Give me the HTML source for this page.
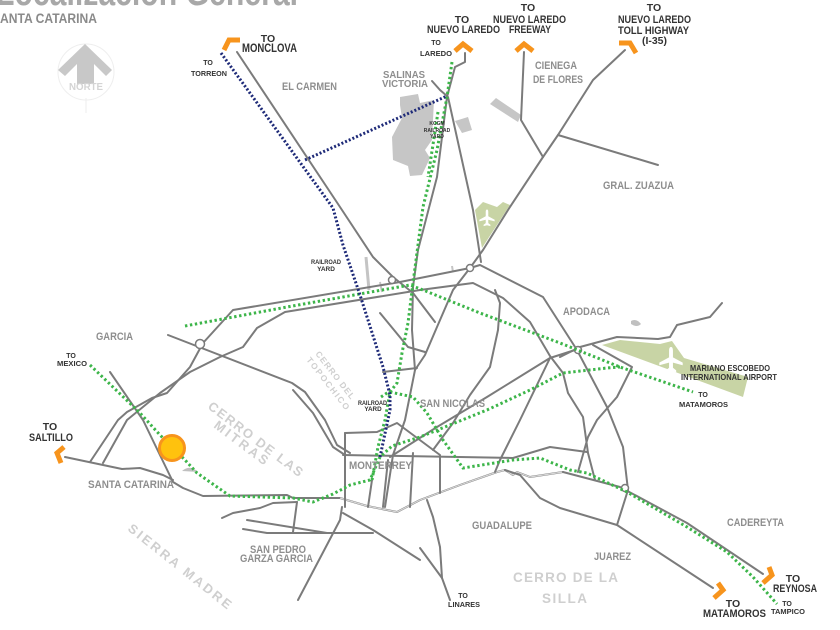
<!DOCTYPE html>
<html><head><meta charset="utf-8"><style>
html,body{margin:0;padding:0;background:#fff;width:840px;height:630px;overflow:hidden}
svg{display:block}
.r{fill:none;stroke:#7b7b7b;stroke-width:2;stroke-linejoin:round;stroke-linecap:round}
.rw{fill:none;stroke:#d8d8d8;stroke-width:1.2;stroke-linejoin:round}
.g{fill:none;stroke:#3db54a;stroke-width:3;stroke-dasharray:2.4 2.6}
.b{fill:none;stroke:#1e2a78;stroke-width:3;stroke-dasharray:2 2}
.o{fill:none;stroke:#f7941d;stroke-width:5;stroke-linejoin:miter;stroke-linecap:butt}
text{font-family:"Liberation Sans",sans-serif;font-weight:bold}
.lb{fill:#333}
.lg{fill:#8e8e8e}
.lc{fill:#cfcfcf}
.cl{fill:#fff;stroke:#7b7b7b;stroke-width:1.5}
</style></head><body>
<svg width="840" height="630" viewBox="0 0 840 630">
<!-- title -->
<text x="-4" y="5" font-size="38" fill="#a8a8a8" font-weight="normal" textLength="302" lengthAdjust="spacingAndGlyphs">Localización General</text>
<text x="0" y="23" font-size="13.5" fill="#8a8a8a" font-weight="normal" textLength="97" lengthAdjust="spacingAndGlyphs">ANTA CATARINA</text>

<!-- north arrow -->
<circle cx="86" cy="72" r="28" fill="none" stroke="#eeeeee" stroke-width="1"/>
<line x1="86" y1="98" x2="86" y2="113" stroke="#eeeeee" stroke-width="1"/>
<polygon points="85,44 112,70 106,76 94,64 94,84 77,84 77,64 65,76 58,70" fill="#c8c8c8"/>
<text x="86" y="90" font-size="10.5" fill="#d4d4d4" text-anchor="middle" textLength="34" lengthAdjust="spacingAndGlyphs">NORTE</text>

<!-- land areas -->
<polygon points="400,97 418,94 420,103 434,100 432,140 425,150 430,158 422,175 410,176 408,166 393,160 392,137 402,118 400,105" fill="#c6c6c6"/>
<polygon points="455,121 468,117 472,130 462,133" fill="#c6c6c6"/>
<polygon points="490,104 496,98 521,115 518,122" fill="#c6c6c6"/>
<polygon points="475,210 483,202 497,207 503,202 510,205 482,248" fill="#c8d4a5"/>
<polygon points="602,345 620,340 660,344 672,341 684,358 748,377 743,397" fill="#c8d4a5"/>
<path d="M182,471 Q190,464 198,472 Z" fill="#c0c0c0"/>
<path d="M631,321 Q636,318 641,324 Q637,328 631,324 Z" fill="#c0c0c0"/>
<line x1="366" y1="257" x2="369" y2="290" stroke="#c4c4c4" stroke-width="3"/>
<line x1="380" y1="282" x2="382" y2="292" stroke="#c4c4c4" stroke-width="2"/>
<line x1="452" y1="266" x2="453" y2="272" stroke="#c4c4c4" stroke-width="2"/>

<!-- planes -->
<g transform="translate(671,360) scale(1.3)"><path d="M0,-10 C1,-10 1.5,-9 1.5,-7 L1.5,-2 L9,2 L9,4 L1.5,2 L1.5,6 L4,8 L4,9.5 L0,8.5 L-4,9.5 L-4,8 L-1.5,6 L-1.5,2 L-9,4 L-9,2 L-1.5,-2 L-1.5,-7 C-1.5,-9 -1,-10 0,-10Z" fill="#fff"/></g>
<g transform="translate(487,218) scale(0.85)"><path d="M0,-10 C1,-10 1.5,-9 1.5,-7 L1.5,-2 L9,2 L9,4 L1.5,2 L1.5,6 L4,8 L4,9.5 L0,8.5 L-4,9.5 L-4,8 L-1.5,6 L-1.5,2 L-9,4 L-9,2 L-1.5,-2 L-1.5,-7 C-1.5,-9 -1,-10 0,-10Z" fill="#fff"/></g>

<!-- roads -->
<path class="r" d="M237,52 L342,210 L373,257 L393,277 L413,293 L435,322"/>
<path class="r" d="M465,53 L465,62 L455,67 L447,97 L437,177 L418,250 L413,287 L412,330 L415,370 L405,420 L393,455 L385,507"/>
<path class="r" d="M625,50 L593,80 L558,135 L543,157 L508,210 L483,250 L470,268 L453,290 L437,327 L425,355 L415,370"/>
<path class="r" d="M448,97 L473,210 L481,262"/>
<path class="r" d="M524,52 L521,120 L543,157"/>
<path class="r" d="M558,135 L658,165"/>
<path class="r" d="M432,81 L440,90 L447,96"/>
<path class="r" d="M90,462 L118,420 L127,412 L152,398 L167,393 L190,367 L203,343 L233,310 L400,282 L470,268 L480,265 L543,297 L577,350 L607,407 L623,447 L628,490 L617,525"/>
<path class="r" d="M103,463 L127,420 L160,393 L190,372 L220,357 L243,347 L257,328 L285,312 L420,290 L473,283 L503,298 L530,322 L550,356 L563,373 L568,393 L583,417 L588,453 L595,480"/>
<path class="r" d="M168,335 L292,383 L305,392 L325,420 L337,445 L350,453"/>
<path class="r" d="M293,390 L313,413 L333,447 L345,455"/>
<path class="r" d="M110,372 L143,420 L173,482 L183,488 L203,496 L287,495 L293,498 L328,498 L340,498"/>
<path class="r" d="M65,457 L122,469 L140,468 L163,475 L173,480"/>
<path class="r" stroke-width="4.2" d="M340,498 L367,506 L397,512 L420,500 L460,485 L497,472 L505,470 L513,475 L517,472 L530,477 L563,472"/>
<path class="rw" d="M340,498 L367,506 L397,512 L420,500 L460,485 L497,472 L505,470 L513,475 L517,472 L530,477 L563,472"/>
<path class="r" d="M563,472 L620,487 L687,523 L763,574"/>
<path class="r" d="M343,455 L513,458 L550,447 L587,452"/>
<path class="r" d="M345,433 L345,507"/>
<path class="r" d="M345,433 L377,432 L397,423 L440,455 L440,493"/>
<path class="r" d="M413,453 L410,507"/>
<path class="r" d="M372,480 L368,507"/>
<path class="r" d="M388,460 L383,507"/>
<path class="r" d="M390,457 L437,427 L487,397 L550,358 L575,350"/>
<path class="r" d="M495,290 L500,303 L498,330 L490,367 L470,395 L453,423 L433,450"/>
<path class="r" d="M550,358 L520,420 L500,460 L495,472"/>
<path class="r" d="M560,357 L580,347 L617,337 L658,339 L670,337 L677,325 L710,317 L722,303"/>
<path class="r" d="M593,345 L632,367 L617,397 L597,420 L588,437 L578,472"/>
<path class="r" d="M505,470 L520,475 L540,498 L560,508 L617,525 L713,588"/>
<path class="r" d="M427,500 L433,517 L440,547 L442,578 L450,600"/>
<path class="r" d="M420,548 L442,578"/>
<path class="r" d="M343,513 L373,530 L420,560"/>
<path class="r" d="M247,520 L327,533"/>
<path class="r" d="M243,529 L267,533 L373,533"/>
<path class="r" d="M297,502 L293,532"/>
<path class="r" d="M342,507 L340,520 L298,600"/>
<path class="r" d="M222,518 L233,513 L260,508 L273,503 L297,502"/>
<path class="r" d="M380,313 L408,347 L425,352"/>
<path class="r" d="M383,372 L417,368"/>
<circle class="cl" cx="200" cy="344" r="4.5"/>
<circle class="cl" cx="392" cy="280" r="3.5"/>
<circle class="cl" cx="470" cy="268" r="3.5"/>
<circle class="cl" cx="578" cy="350" r="3.5"/>
<circle class="cl" cx="625" cy="488" r="3.5"/>

<!-- green rail -->
<path class="g" d="M452,62 L447,97 L437,150 L423,207 L413,283 L408,323 L402,353 L397,383 L390,392 L385,420 L378,447 L372,480"/>
<path class="g" d="M438,112 L428,177"/>
<path class="g" d="M390,392 L413,397 L427,413 L443,440 L463,468 L513,460 L540,458 L570,470 L587,473 L627,492 L687,527 L727,552 L753,577 L777,604"/>
<path class="g" d="M90,365 L140,413 L160,435 L185,460 L197,473 L230,496 L293,498 L313,502 L333,494 L350,485 L370,480 L380,457 L392,446 L420,437 L487,410 L530,390 L563,373 L607,368 L620,367"/>
<path class="g" d="M185,326 L287,307 L410,285 L423,290 L480,313 L560,343 L620,367 L693,392"/>
<path class="g" d="M381,397 L390,391"/>

<!-- navy rail -->
<path class="b" d="M221,53 L333,208 L343,245 L360,295 L383,367 L390,395 L390,410 L380,457"/>
<path class="b" d="M305,160 L447,96"/>

<!-- site marker -->
<circle cx="172" cy="448" r="12.5" fill="#ffc20e" stroke="#f7941d" stroke-width="3"/>

<!-- orange chevrons -->
<polyline class="o" points="224,50 229,40 240,40"/>
<polyline class="o" points="455,51 463,44 472,51"/>
<polyline class="o" points="516,51 524,44 533,51"/>
<polyline class="o" points="619,43 630,43 636,53"/>
<polyline class="o" points="64,447 57,453 61,463"/>
<polyline class="o" points="718,583 723,590 714,598"/>
<polyline class="o" points="769,567 772,575 763,583"/>

<!-- dark labels -->
<text class="lb" x="268" y="42" font-size="10.5" text-anchor="middle">TO</text>
<text class="lb" x="242" y="52" font-size="11.5" textLength="55" lengthAdjust="spacingAndGlyphs">MONCLOVA</text>
<text class="lb" x="208" y="65" font-size="7" text-anchor="middle">TO</text>
<text class="lb" x="191" y="76" font-size="7.5" textLength="36" lengthAdjust="spacingAndGlyphs">TORREON</text>
<text class="lb" x="462" y="23" font-size="10.5" text-anchor="middle">TO</text>
<text class="lb" x="427" y="33" font-size="11" textLength="73" lengthAdjust="spacingAndGlyphs">NUEVO LAREDO</text>
<text class="lb" x="436" y="45" font-size="7" text-anchor="middle">TO</text>
<text class="lb" x="420" y="56" font-size="7.5" textLength="32" lengthAdjust="spacingAndGlyphs">LAREDO</text>
<text class="lb" x="528" y="11" font-size="10.5" text-anchor="middle">TO</text>
<text class="lb" x="493" y="23" font-size="11" textLength="73" lengthAdjust="spacingAndGlyphs">NUEVO LAREDO</text>
<text class="lb" x="509" y="33" font-size="11" textLength="42" lengthAdjust="spacingAndGlyphs">FREEWAY</text>
<text class="lb" x="654" y="11" font-size="10.5" text-anchor="middle">TO</text>
<text class="lb" x="618" y="23" font-size="11" textLength="73" lengthAdjust="spacingAndGlyphs">NUEVO LAREDO</text>
<text class="lb" x="618" y="34" font-size="11" textLength="71" lengthAdjust="spacingAndGlyphs">TOLL HIGHWAY</text>
<text class="lb" x="642" y="44" font-size="10" textLength="25" lengthAdjust="spacingAndGlyphs">(I-35)</text>
<text class="lb" x="437" y="125" font-size="5" text-anchor="middle">KCGM</text>
<text class="lb" x="437" y="132" font-size="5" text-anchor="middle">RAILROAD</text>
<text class="lb" x="437" y="138" font-size="5" text-anchor="middle">YARD</text>
<text class="lb" x="311" y="264" font-size="6.5" textLength="30" lengthAdjust="spacingAndGlyphs">RAILROAD</text>
<text class="lb" x="326" y="271" font-size="6.5" text-anchor="middle">YARD</text>
<text class="lb" x="358" y="405" font-size="6.3" textLength="29" lengthAdjust="spacingAndGlyphs">RAILROAD</text>
<text class="lb" x="373" y="411" font-size="6.3" text-anchor="middle">YARD</text>
<text class="lb" x="71" y="358" font-size="7" text-anchor="middle">TO</text>
<text class="lb" x="57" y="366" font-size="7.5" textLength="30" lengthAdjust="spacingAndGlyphs">MEXICO</text>
<text class="lb" x="50" y="430" font-size="10.5" text-anchor="middle">TO</text>
<text class="lb" x="29" y="441" font-size="11" textLength="44" lengthAdjust="spacingAndGlyphs">SALTILLO</text>
<text class="lb" x="690" y="371" font-size="8.5" textLength="80" lengthAdjust="spacingAndGlyphs">MARIANO ESCOBEDO</text>
<text class="lb" x="681" y="380" font-size="8.5" textLength="96" lengthAdjust="spacingAndGlyphs">INTERNATIONAL AIRPORT</text>
<text class="lb" x="703" y="397" font-size="7" text-anchor="middle">TO</text>
<text class="lb" x="679" y="407" font-size="7.5" textLength="49" lengthAdjust="spacingAndGlyphs">MATAMOROS</text>
<text class="lb" x="463" y="598" font-size="7" text-anchor="middle">TO</text>
<text class="lb" x="448" y="607" font-size="7.5" textLength="32" lengthAdjust="spacingAndGlyphs">LINARES</text>
<text class="lb" x="733" y="607" font-size="10.5" text-anchor="middle">TO</text>
<text class="lb" x="703" y="617" font-size="11" textLength="63" lengthAdjust="spacingAndGlyphs">MATAMOROS</text>
<text class="lb" x="793" y="582" font-size="10.5" text-anchor="middle">TO</text>
<text class="lb" x="773" y="592" font-size="11" textLength="44" lengthAdjust="spacingAndGlyphs">REYNOSA</text>
<text class="lb" x="787" y="606" font-size="7" text-anchor="middle">TO</text>
<text class="lb" x="771" y="614" font-size="7.5" textLength="34" lengthAdjust="spacingAndGlyphs">TAMPICO</text>

<!-- gray place labels -->
<text class="lg" x="282" y="90" font-size="11" textLength="55" lengthAdjust="spacingAndGlyphs">EL CARMEN</text>
<text class="lg" x="383" y="78" font-size="10" textLength="42" lengthAdjust="spacingAndGlyphs">SALINAS</text>
<text class="lg" x="382" y="87" font-size="10" textLength="46" lengthAdjust="spacingAndGlyphs">VICTORIA</text>
<text class="lg" x="535" y="69" font-size="11" textLength="42" lengthAdjust="spacingAndGlyphs">CIENEGA</text>
<text class="lg" x="533" y="83" font-size="11" textLength="50" lengthAdjust="spacingAndGlyphs">DE FLORES</text>
<text class="lg" x="603" y="189" font-size="11" textLength="71" lengthAdjust="spacingAndGlyphs">GRAL. ZUAZUA</text>
<text class="lg" x="96" y="340" font-size="11" textLength="37" lengthAdjust="spacingAndGlyphs">GARCIA</text>
<text class="lg" x="88" y="488" font-size="11" textLength="86" lengthAdjust="spacingAndGlyphs">SANTA CATARINA</text>
<text class="lg" x="250" y="553" font-size="11" textLength="56" lengthAdjust="spacingAndGlyphs">SAN PEDRO</text>
<text class="lg" x="240" y="562" font-size="11" textLength="73" lengthAdjust="spacingAndGlyphs">GARZA GARCIA</text>
<text class="lg" x="349" y="469" font-size="11" textLength="63" lengthAdjust="spacingAndGlyphs">MONTERREY</text>
<text class="lg" x="420" y="407" font-size="11" textLength="65" lengthAdjust="spacingAndGlyphs">SAN NICOLAS</text>
<text class="lg" x="563" y="315" font-size="11" textLength="47" lengthAdjust="spacingAndGlyphs">APODACA</text>
<text class="lg" x="727" y="526" font-size="11" textLength="57" lengthAdjust="spacingAndGlyphs">CADEREYTA</text>
<text class="lg" x="472" y="529" font-size="11" textLength="60" lengthAdjust="spacingAndGlyphs">GUADALUPE</text>
<text class="lg" x="594" y="560" font-size="11" textLength="37" lengthAdjust="spacingAndGlyphs">JUAREZ</text>

<!-- terrain labels -->
<text class="lc" x="513" y="582" font-size="13.5" textLength="105" lengthAdjust="spacing">CERRO DE LA</text>
<text class="lc" x="542" y="603" font-size="13.5" textLength="45" lengthAdjust="spacing">SILLA</text>
<text class="lc" transform="translate(207,408) rotate(37)" font-size="13" textLength="115" lengthAdjust="spacing">CERRO DE LAS</text>
<text class="lc" transform="translate(213,427) rotate(37)" font-size="13" textLength="64" lengthAdjust="spacing">MITRAS</text>
<text class="lc" transform="translate(127,530) rotate(38.5)" font-size="13" textLength="128" lengthAdjust="spacing">SIERRA MADRE</text>
<text class="lc" transform="translate(315,354) rotate(52)" font-size="8.5" textLength="58" lengthAdjust="spacing">CERRO DEL</text>
<text class="lc" transform="translate(306,360) rotate(52)" font-size="8.5" textLength="64" lengthAdjust="spacing">TOPOCHICO</text>
</svg>
</body></html>
